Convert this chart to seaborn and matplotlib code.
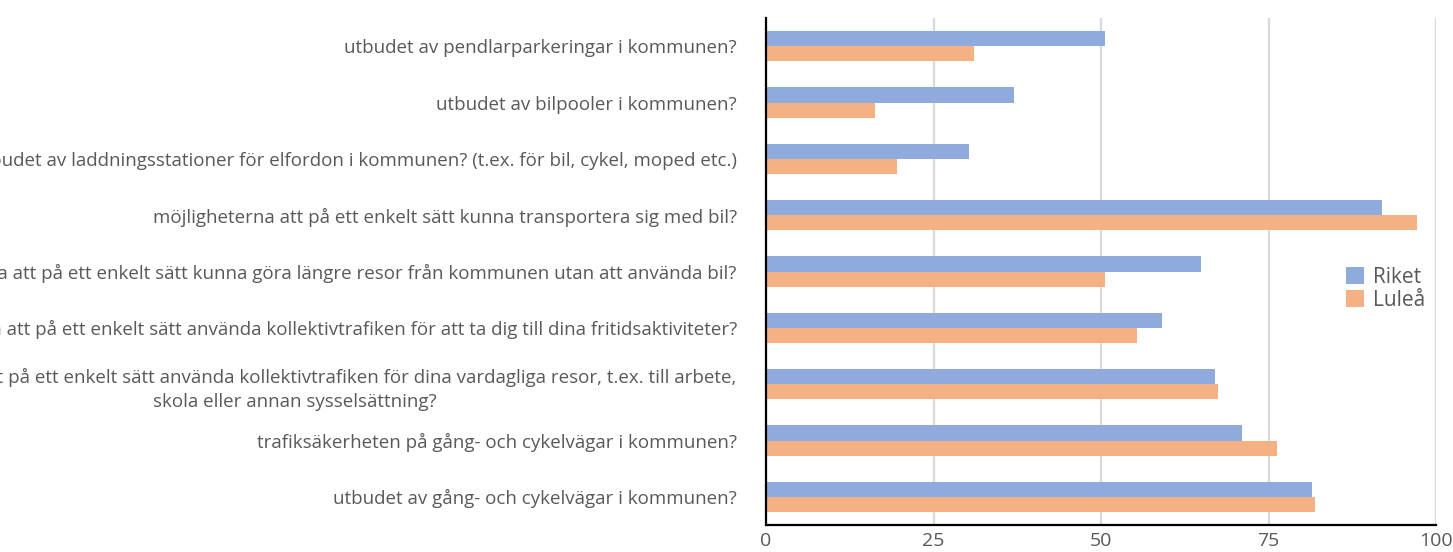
import pandas as pd
import numpy as np
import matplotlib
matplotlib.use("Agg")
import matplotlib.pyplot as plt
import seaborn as sns

# =====================================================
# DATA
# =====================================================
questions = [
    "utbudet av pendlarparkeringar i kommunen?",
    "utbudet av bilpooler i kommunen?",
    "utbudet av laddningsstationer för elfordon i kommunen? (t.ex. för bil, cykel, moped etc.)",
    "möjligheterna att på ett enkelt sätt kunna transportera sig med bil?",
    "möjligheterna att på ett enkelt sätt kunna göra längre resor från kommunen utan att använda bil?",
    "möjligheterna att på ett enkelt sätt använda kollektivtrafiken för att ta dig till dina fritidsaktiviteter?",
    "möjligheterna att på ett enkelt sätt använda kollektivtrafiken för dina vardagliga resor, t.ex. till arbete,\nskola eller annan sysselsättning?",
    "trafiksäkerheten på gång- och cykelvägar i kommunen?",
    "utbudet av gång- och cykelvägar i kommunen?",
]
riket = [50.6, 37.0, 30.3, 91.9, 64.9, 59.1, 67.0, 71.0, 81.5]
lulea = [31.0, 16.3, 19.6, 97.2, 50.6, 55.4, 67.5, 76.3, 81.9]
series = ["Riket", "Luleå"]
colors = ["#8FAADC", "#F4B183"]
x_ticks = [0, 25, 50, 75, 100]

df = pd.DataFrame({
    "Fråga": questions * 2,
    "Andel": riket + lulea,
    "Serie": [series[0]] * len(riket) + [series[1]] * len(lulea),
})

# =====================================================
# STYLE
# =====================================================
sns.set_style("white")
plt.rcParams["font.family"] = ["Open Sans", "DejaVu Sans"]

fig = plt.figure(figsize=(14.53, 5.52), dpi=100)
ax = fig.add_axes([766 / 1453, 1 - 525 / 552, 670 / 1453, 507 / 552])

sns.barplot(data=df, y="Fråga", x="Andel", hue="Serie", hue_order=series,
            palette=colors, width=0.54, saturation=1, orient="h", ax=ax,
            linewidth=0, zorder=3)

ax.set_xlim(0, 100)
ax.set_ylim(len(questions) - 0.5, -0.5)
ax.set_xticks(x_ticks)
ax.set_xlabel("")
ax.set_ylabel("")

# gridlines
ax.grid(axis="x", color="#D9D9D9", linewidth=1.6, zorder=0)
ax.grid(axis="y", visible=False)
ax.set_axisbelow(True)

# spines
sns.despine(ax=ax, top=True, right=True)
for side in ["left", "bottom"]:
    ax.spines[side].set_color("black")
    ax.spines[side].set_linewidth(1.6)
    ax.spines[side].set_zorder(5)

# category ticks sit between groups
ax.set_yticks(np.arange(len(questions)) - 0.5, minor=True)
ax.tick_params(axis="y", which="major", length=0, pad=21, labelsize=13.5,
               labelcolor="#595959")
ax.tick_params(axis="y", which="minor", length=6, width=1.6, color="black",
               direction="out")
ax.tick_params(axis="x", length=0, pad=5, labelsize=14, labelcolor="#595959")

for lab in ax.get_yticklabels():
    lab.set_multialignment("center")
    lab.set_linespacing(1.45)

leg = ax.legend(loc="center right", bbox_to_anchor=(1.0, 0.466), frameon=False,
                fontsize=15, handlelength=0.85, handleheight=0.85,
                handletextpad=0.45, labelspacing=0.1, borderaxespad=0.1)
for t in leg.get_texts():
    t.set_color("#595959")

plt.savefig("out.png", dpi=100)
